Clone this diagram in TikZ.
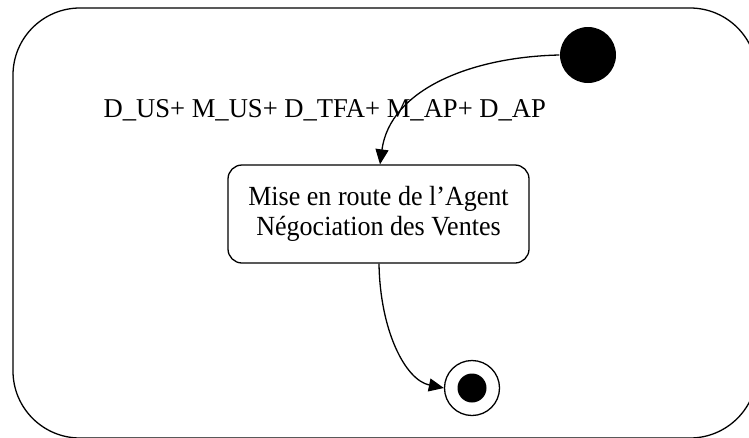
\documentclass[tikz,border=0pt]{standalone}
\usepackage{fontspec}
\setmainfont{Liberation Serif}
\usetikzlibrary{arrows.meta}
\begin{document}
\begin{tikzpicture}[x=1pt,y=-1pt, line width=1.3pt,
  arr/.style={-{Triangle[length=15pt,width=13pt]}},
  labeltext/.style={font=\fontsize{27.2}{30}\selectfont},
  statebox/.style={draw, rounded corners=14pt, minimum width=301pt, minimum height=98pt, align=center, inner sep=0pt, font=\fontsize{27.7}{30}\selectfont},
  initstate/.style={circle, fill, minimum size=56pt, inner sep=0pt},
  finalring/.style={circle, draw, minimum size=55pt, inner sep=0pt},
  finaldot/.style={circle, fill, minimum size=29pt, inner sep=0pt}]
\useasboundingbox (0,0) rectangle (749,437);
\begin{scope}
  \clip (0,0) rectangle (749,437);
  \draw[rounded corners=67pt] (13,8) rectangle (757,438);
\end{scope}
\node[initstate] (init) at (588,55) {};
\node[statebox] (box) at (378.5,214) {\scalebox{0.94}[1]{\begin{tabular}{@{}c@{}}Mise en route de l’Agent\\Négociation des Ventes\end{tabular}}};
\node[finalring] (final) at (472,388) {};
\node[finaldot] (fdot) at (final.center) {};
\node[labeltext, anchor=base west, inner sep=0pt] (lbl) at (103,117) {\scalebox{0.978}[1]{D\_US+ M\_US+ D\_TFA+ M\_AP+ D\_AP}};
\draw[arr] (init.west) .. controls (470,57) and (390,90) .. ([xshift=1.5pt]box.north);
\draw[arr] ([xshift=0.5pt]box.south) .. controls (380,330) and (405,380) .. (final.west);
\end{tikzpicture}
\end{document}
